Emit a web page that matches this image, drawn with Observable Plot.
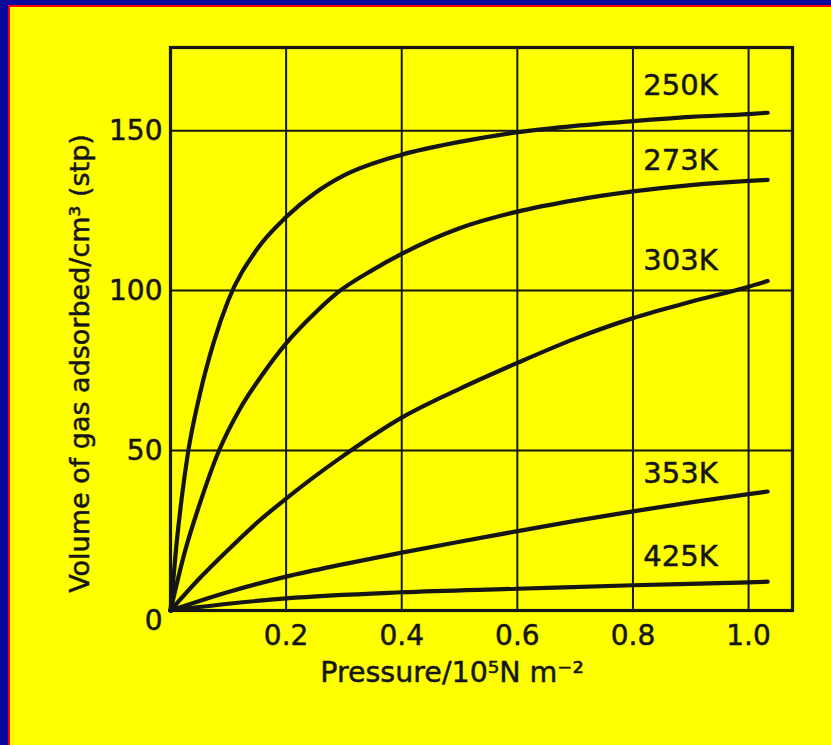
<!DOCTYPE html>
<html>
<head>
<meta charset="utf-8">
<script src="https://cdn.jsdelivr.net/npm/d3@7"></script>
<script src="https://cdn.jsdelivr.net/npm/@observablehq/plot@0.6"></script>
<style>
  html, body { margin: 0; padding: 0; width: 831px; height: 745px; overflow: hidden; background: #06069a; }
  #paper { position: absolute; left: 8px; top: 5px; right: 0; bottom: 0; background: #ffff00;
           border-left: 2px solid #ff0000; border-top: 2px solid #ff0000; }
  #chart { position: absolute; left: 0; top: 0; }
</style>
</head>
<body>
<div id="paper"></div>
<div id="chart"></div>
<script>
// Adsorption isotherms: volume of gas adsorbed vs pressure
const series = ["250K", "273K", "303K", "353K", "425K"];

const pressure250 = [0, 0.01, 0.02, 0.03, 0.05, 0.075, 0.1, 0.15, 0.2, 0.25, 0.3, 0.4, 0.5, 0.6, 0.7, 0.8, 0.9, 1.0, 1.033];
const volume250   = [0, 20, 36, 49, 67, 84, 97, 113, 123, 130.5, 136, 142.5, 146.5, 149.5, 151.5, 153, 154.3, 155.2, 155.6];

const pressure273 = [0, 0.025, 0.05, 0.084, 0.12, 0.16, 0.2, 0.25, 0.29, 0.35, 0.4, 0.5, 0.6, 0.7, 0.8, 0.9, 1.0, 1.033];
const volume273   = [0, 18.5, 33, 50, 63, 74, 83.5, 93, 99.5, 106.5, 111.5, 119.5, 124.7, 128.3, 131, 133, 134.3, 134.6];

const pressure303 = [0, 0.05, 0.1, 0.15, 0.2, 0.3, 0.4, 0.5, 0.6, 0.7, 0.8, 0.9, 1.0, 1.033];
const volume303   = [0, 10, 19, 27.5, 35, 48.5, 60.3, 69.3, 77.4, 85, 91.4, 96.5, 101.2, 103];

const pressure353 = [0, 0.1, 0.2, 0.3, 0.4, 0.5, 0.6, 0.7, 0.8, 0.9, 1.0, 1.033];
const volume353   = [0, 5.8, 10.6, 14.5, 18.1, 21.5, 24.8, 28, 31, 33.8, 36.4, 37.2];

const pressure425 = [0, 0.1, 0.2, 0.4, 0.6, 0.8, 1.0, 1.033];
const volume425   = [0, 2.1, 3.8, 5.7, 6.8, 7.9, 8.8, 9.0];

// curve label anchor points (data coordinates)
const labelPressure = [0.818, 0.818, 0.818, 0.818, 0.818];
const labelVolume   = [164.0, 140.5, 109.4, 42.7, 16.7];

const xTicks = [0.2, 0.4, 0.6, 0.8, 1.0];
const yTicks = [50, 100, 150];
const yZeroTick = [0];
const xGrid = [0.2, 0.4, 0.6, 0.8, 1.0];
const yGrid = [50, 100, 150];

const xTitle = "Pressure/10\u2075N m\u207B\u00B2";
const yTitle = "Volume of gas adsorbed/cm\u00B3 (stp)";

const pressures = [pressure250, pressure273, pressure303, pressure353, pressure425];
const volumes = [volume250, volume273, volume303, volume353, volume425];
const data = series.flatMap((s, i) => pressures[i].map((p, j) => ({series: s, p, v: volumes[i][j]})));
const labels = series.map((s, i) => ({text: s, p: labelPressure[i], v: labelVolume[i]}));

const ink = "#151515";
const font = "DejaVu Sans";
const textHalo = {stroke: ink, strokeWidth: 0.5};

const chart = Plot.plot({
  width: 831,
  height: 745,
  marginLeft: 170,
  marginRight: 39,
  marginTop: 47,
  marginBottom: 135,
  style: {background: "transparent", fontFamily: font, color: ink, overflow: "visible"},
  x: {domain: [0, 1.076]},
  y: {domain: [0, 176]},
  marks: [
    Plot.gridX(xGrid, {stroke: ink, strokeOpacity: 1, strokeWidth: 2}),
    Plot.gridY(yGrid, {stroke: ink, strokeOpacity: 1, strokeWidth: 2}),
    Plot.line(data, {x: "p", y: "v", z: "series", curve: "monotone-x", stroke: ink, strokeWidth: 4.2, strokeLinecap: "round"}),
    Plot.frame({stroke: ink, strokeWidth: 3.2}),
    Plot.text(labels, {x: "p", y: "v", text: "text", textAnchor: "start", fontSize: 29, fill: ink, ...textHalo}),
    Plot.axisX({ticks: xTicks, tickSize: 0, tickPadding: 15, tickFormat: d3.format(".1f"), fontSize: 28, label: null}),
    Plot.axisY({ticks: yTicks, tickSize: 0, tickPadding: 8, fontSize: 28, label: null}),
    Plot.axisY({ticks: yZeroTick, tickSize: 0, tickPadding: 8, fontSize: 28, label: null, dy: 11}),
    Plot.text([xTitle], {frameAnchor: "bottom", dx: -29.5, dy: 71.5, fontSize: 28.5, fill: ink, ...textHalo}),
    Plot.text([yTitle], {frameAnchor: "left", textAnchor: "middle", dx: -90, dy: 34.5, rotate: -90, fontSize: 27, fill: ink, ...textHalo})
  ]
});
// give the axis tick labels the same slightly heavier ink as the printed original
chart.querySelectorAll("g[aria-label='x-axis tick label'] text, g[aria-label='y-axis tick label'] text").forEach(t => {
  t.setAttribute("stroke", ink);
  t.setAttribute("stroke-width", "0.5");
});
document.getElementById("chart").appendChild(chart);
</script>
</body>
</html>
